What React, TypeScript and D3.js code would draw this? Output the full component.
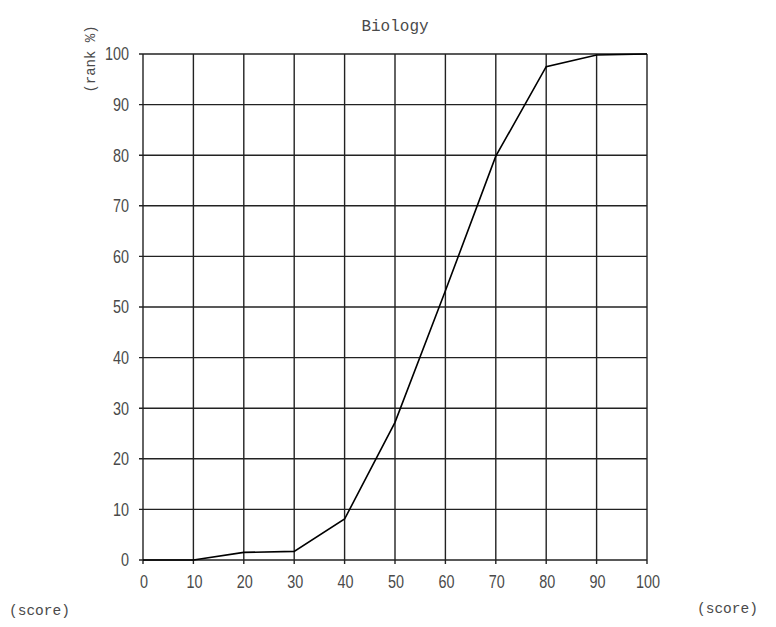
import React from "react";
import * as d3 from "d3";

const scores = [0, 10, 20, 30, 40, 50, 60, 70, 80, 90, 100];
const rankPct = [0, 0, 1.5, 1.7, 8.1, 27.2, 53.2, 79.8, 97.5, 99.8, 100];
const xTicks = [0, 10, 20, 30, 40, 50, 60, 70, 80, 90, 100];
const yTicks = [0, 10, 20, 30, 40, 50, 60, 70, 80, 90, 100];
const title = "Biology";

export default function App() {
  const W = 776, H = 627;
  const x = d3.scaleLinear().domain([0, 100]).range([143, 647]);
  const y = d3.scaleLinear().domain([0, 100]).range([560, 54]);
  const line = d3.line<number>().x((_, i) => x(scores[i])).y((d) => y(d));
  const mono = "'Liberation Mono', 'DejaVu Sans Mono', monospace";
  const sans = "'Liberation Sans', Arial, sans-serif";
  const col = "#4a4a4a";
  return (
    <svg width={W} height={H} style={{ position: "absolute", left: 0, top: 0 }}>
      <rect width={W} height={H} fill="#fff" />
      {yTicks.map((t) => (
        <line key={"h" + t} x1={x(0) - 4} x2={x(100)} y1={y(t)} y2={y(t)} stroke="#222" strokeWidth={1.4} />
      ))}
      {xTicks.map((t) => (
        <line key={"v" + t} x1={x(t)} x2={x(t)} y1={y(100)} y2={y(0) + 4} stroke="#222" strokeWidth={1.4} />
      ))}
      <path d={line(rankPct) || ""} fill="none" stroke="#000" strokeWidth={1.6} />
      {yTicks.map((t) => (
        <text key={"yl" + t} transform={`translate(129,${y(t)}) scale(0.8,1)`} dy="0.36em" textAnchor="end" fontFamily={sans} fontSize={18} fill={col}>
          {t}
        </text>
      ))}
      {xTicks.map((t) => (
        <text key={"xl" + t} transform={`translate(${x(t) + 1},588) scale(0.8,1)`} textAnchor="middle" fontFamily={sans} fontSize={18} fill={col}>
          {t}
        </text>
      ))}
      <text x={395} y={31} textAnchor="middle" fontFamily={mono} fontSize={16} fill={col}>{title}</text>
      <text x={9} y={615} fontFamily={mono} fontSize={14.5} fill={col}>(score)</text>
      <text x={697} y={613} fontFamily={mono} fontSize={14.5} fill={col}>(score)</text>
      <text transform="translate(95,59) rotate(-90)" textAnchor="middle" fontFamily={mono} fontSize={14} fill={col}>(rank %)</text>
    </svg>
  );
}
